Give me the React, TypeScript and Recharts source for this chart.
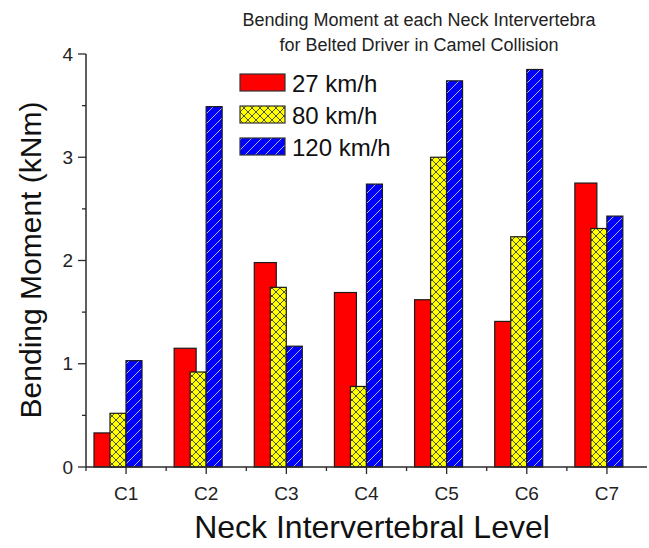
import { Bar, BarChart, XAxis, YAxis } from "recharts";

const levels = ["C1", "C2", "C3", "C4", "C5", "C6", "C7"];
const speed27 = [0.33, 1.15, 1.98, 1.69, 1.62, 1.41, 2.75];
const speed80 = [0.52, 0.92, 1.74, 0.78, 3.0, 2.23, 2.31];
const speed120 = [1.03, 3.49, 1.17, 2.74, 3.74, 3.85, 2.43];
const yTicks = [0, 0.5, 1, 1.5, 2, 2.5, 3, 3.5, 4];

const data = levels.map((level, i) => ({
  level,
  s27: speed27[i],
  s80: speed80[i],
  s120: speed120[i],
}));

const FONT = "'Liberation Sans', Arial, sans-serif";
const AXIS = "#2a2a2a";
const W = 649;
const H = 548;
const BAND = (W - 86 - 2) / levels.length;

// Origin draws the group a bit left of the tick, red bar wider and under the yellow one
const shifted = (dx: number, extra: number) => (p: any) => (
  <rect
    x={p.x + dx}
    y={p.y}
    width={Math.max(0, p.width + extra)}
    height={p.height}
    fill={p.fill}
    stroke="#1a1a1a"
    strokeWidth={1.2}
  />
);

function YTick(props: any) {
  const { x, y, payload } = props;
  const major = Number.isInteger(payload.value);
  return (
    <g>
      <line x1={x - (major ? 8 : 4)} x2={x} y1={y} y2={y} stroke={AXIS} strokeWidth={1.3} />
      {major && (
        <text x={x - 13} y={y} textAnchor="end" dominantBaseline="central" fontSize={19} fontFamily={FONT} fill="#222">
          {payload.value}
        </text>
      )}
    </g>
  );
}

function XTick(props: any) {
  const { x, y, payload } = props;
  const mx = x - BAND / 2;
  return (
    <g>
      <line x1={x} x2={x} y1={y} y2={y + 7} stroke={AXIS} strokeWidth={1.3} />
      <line x1={mx} x2={mx} y1={y} y2={y + 4} stroke={AXIS} strokeWidth={1.3} />
      <text x={x} y={y + 26} textAnchor="middle" dominantBaseline="central" fontSize={19} fontFamily={FONT} fill="#222">
        {payload.value}
      </text>
    </g>
  );
}

const legendRows = [
  { label: "27 km/h", fill: "#ff0000", y: 74 },
  { label: "80 km/h", fill: "url(#crossYellow)", y: 106 },
  { label: "120 km/h", fill: "url(#hatchBlue)", y: 138 },
];

export default function App() {
  return (
    <div style={{ position: "absolute", left: 0, top: 0, width: W, height: H, background: "#fff" }}>
      <BarChart
        width={W}
        height={H}
        data={data}
        margin={{ top: 54, right: 2, left: 0, bottom: 0 }}
        barSize={16}
        barGap={0}
      >
        <XAxis
          dataKey="level"
          height={81}
          interval={0}
          tickSize={0}
          tickMargin={0}
          tickLine={false}
          axisLine={{ stroke: AXIS, strokeWidth: 1.5 }}
          tick={<XTick />}
        />
        <YAxis
          width={86}
          domain={[0, 4]}
          ticks={yTicks}
          tickSize={0}
          tickMargin={0}
          tickLine={false}
          axisLine={{ stroke: AXIS, strokeWidth: 1.5 }}
          tick={<YTick />}
        />
        <Bar dataKey="s27" fill="#ff0000" shape={shifted(-8, 6)} isAnimationActive={false} />
        <Bar dataKey="s80" fill="url(#crossYellow)" shape={shifted(-8, 0)} isAnimationActive={false} />
        <Bar dataKey="s120" fill="url(#hatchBlue)" shape={shifted(-8, 0)} isAnimationActive={false} />
      </BarChart>

      <svg
        width={W}
        height={H}
        style={{ position: "absolute", left: 0, top: 0, pointerEvents: "none" }}
      >
        <defs>
          <pattern id="crossYellow" patternUnits="userSpaceOnUse" width={8} height={8}>
            <rect width={8} height={8} fill="#ffff00" />
            <path d="M0,0 L8,8 M8,0 L0,8" stroke="#3a3a3a" strokeWidth={0.9} />
          </pattern>
          <pattern id="hatchBlue" patternUnits="userSpaceOnUse" width={10} height={10}>
            <rect width={10} height={10} fill="#0000ff" />
            <path d="M0,10 L10,0 M-2,2 L2,-2 M8,12 L12,8" stroke="#c8c8e4" strokeWidth={0.9} />
          </pattern>
        </defs>

        <g fontFamily={FONT} fill="#222" textAnchor="middle">
          <text x={419} y={20} fontSize={18} dominantBaseline="central">
            Bending Moment at each Neck Intervertebra
          </text>
          <text x={419} y={45} fontSize={18} dominantBaseline="central">
            for Belted Driver in Camel Collision
          </text>
        </g>

        {legendRows.map((r) => (
          <g key={r.label}>
            <rect x={240} y={r.y} width={45} height={17} fill={r.fill} stroke="#333" strokeWidth={1.2} />
            <text
              x={292}
              y={r.y + 9}
              fontSize={24}
              fontFamily={FONT}
              fill="#111"
              dominantBaseline="central"
            >
              {r.label}
            </text>
          </g>
        ))}

        <text
          x={30}
          y={260}
          transform="rotate(-90, 30, 260)"
          textAnchor="middle"
          dominantBaseline="central"
          fontSize={30}
          fontFamily={FONT}
          fill="#111"
        >
          Bending Moment (kNm)
        </text>
        <text
          x={372}
          y={527}
          textAnchor="middle"
          dominantBaseline="central"
          fontSize={32}
          fontFamily={FONT}
          fill="#111"
        >
          Neck Intervertebral Level
        </text>
      </svg>
    </div>
  );
}
